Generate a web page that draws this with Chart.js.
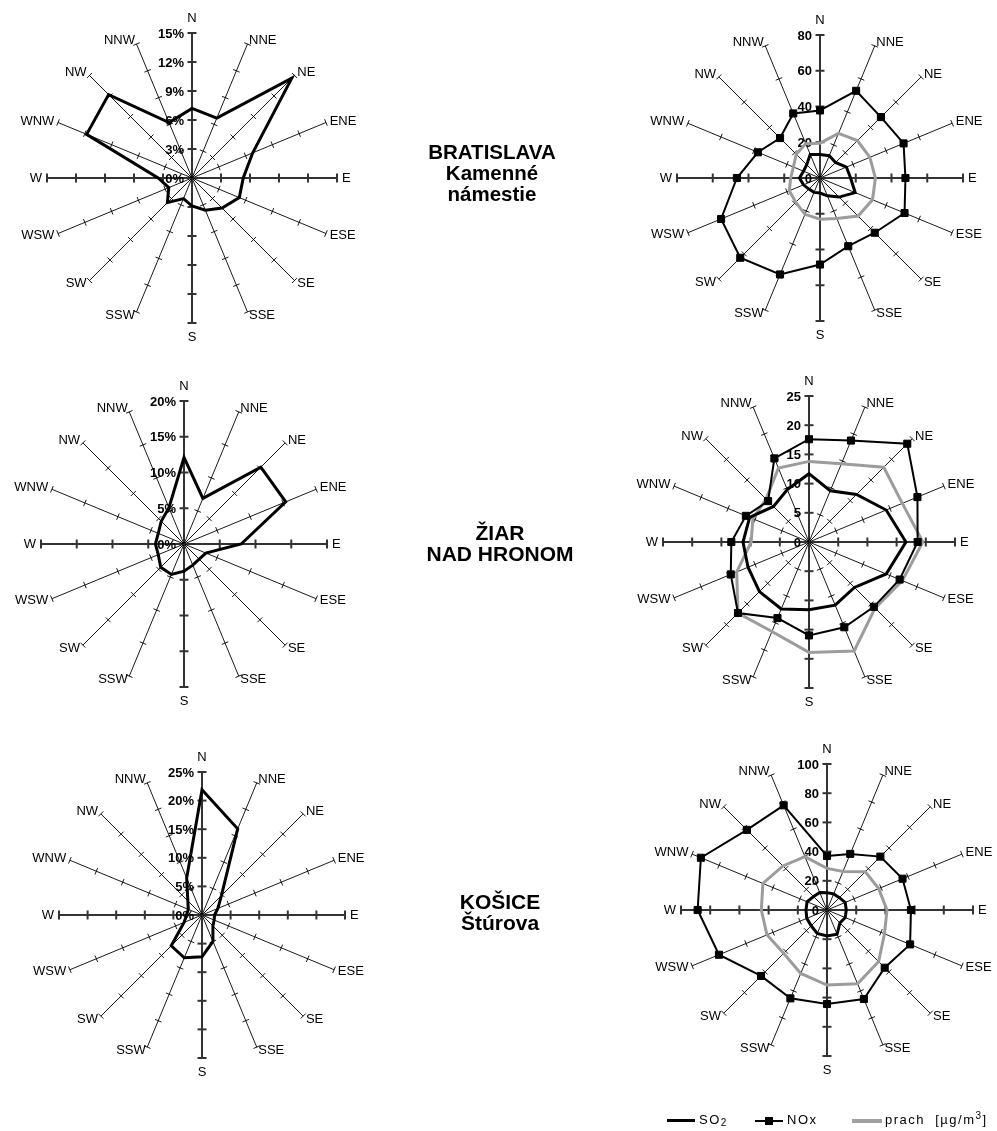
<!DOCTYPE html>
<html>
<head>
<meta charset="utf-8">
<script src="https://cdn.jsdelivr.net/npm/chart.js@4.4.1/dist/chart.umd.min.js"></script>
<style>
  body { margin: 0; background: #fff; width: 997px; height: 1131px; position: relative; overflow: hidden;
         font-family: "Liberation Sans", Arial, sans-serif; }
  canvas { position: absolute; }
  .site { position: absolute; width: 240px; text-align: center; font-weight: bold; font-size: 21px; line-height: 21px; color: #000; }
  .leg { position: absolute; font-size: 13px; line-height: 16px; letter-spacing: 1.5px; color: #000; }
  .leg sub { font-size: 10px; vertical-align: -2px; }
  .leg sup { font-size: 10px; vertical-align: 5px; line-height: 0; }
  .bar { position: absolute; }
</style>
</head>
<body>
<canvas id="ba1" width="400" height="400" style="left:-8px;top:-22px"></canvas>
<canvas id="ba2" width="400" height="400" style="left:620px;top:-22px"></canvas>
<canvas id="zh1" width="400" height="400" style="left:-16px;top:344px"></canvas>
<canvas id="zh2" width="400" height="400" style="left:609px;top:342px"></canvas>
<canvas id="ke1" width="400" height="400" style="left:2px;top:715px"></canvas>
<canvas id="ke2" width="400" height="400" style="left:627px;top:710px"></canvas>

<div class="site" style="left:372px;top:141px;font-size:20.5px">BRATISLAVA<br>Kamenné<br>námestie</div>
<div class="site" style="left:380px;top:522px">ŽIAR<br>NAD HRONOM</div>
<div class="site" style="left:380px;top:891px">KOŠICE<br>Štúrova</div>

<div class="bar" style="left:667px;top:1119px;width:28px;height:3px;background:#000"></div>
<div class="leg" style="left:699px;top:1112px">SO<sub>2</sub></div>
<div class="bar" style="left:755px;top:1120px;width:28px;height:2px;background:#000"></div>
<div class="bar" style="left:765px;top:1117px;width:8px;height:8px;background:#000"></div>
<div class="leg" style="left:787px;top:1112px">NOx</div>
<div class="bar" style="left:852px;top:1119px;width:30px;height:4px;background:#a0a0a0"></div>
<div class="leg" style="left:885px;top:1112px">prach&nbsp; [µg/m<sup>3</sup>]</div>

<script>
// smery vetra (od severu v smere hodinových ručičiek)
const smery = ["N", "NNE", "NE", "ENE", "E", "ESE", "SE", "SSE",
               "S", "SSW", "SW", "WSW", "W", "WNW", "NW", "NNW"];

// Bratislava - početnosť smerov vetra [%]
const vietorBA = [7.2, 6.7, 14.6, 6.8, 5.3, 5.3, 4.4, 3.6, 2.9, 2.3, 3.6, 2.6, 3.5, 11.8, 12.2, 6.2];
// Bratislava - koncentrácie [µg/m3]
const so2BA = [13.2, 13.5, 12.3, 16, 17.1, 21.3, 15.1, 10.8, 8.4, 8.7, 8.8, 10, 11.5, 10, 10.5, 14.3];
const noxBA = [37.8, 52.8, 48.2, 50.6, 47.8, 51.2, 43.3, 41.3, 48.4, 58.4, 63.1, 59.9, 46.5, 37.6, 31.6, 39.1];
const prachBA = [19.5, 27, 29.6, 30.2, 31, 31.8, 30.1, 24.5, 23.1, 22, 19.2, 18.6, 16.4, 16.1, 18.8, 20.8];

// Žiar nad Hronom
const vietorZH = [12.1, 6.9, 15.2, 15.4, 8.0, 3.3, 3.0, 3.2, 3.8, 4.6, 4.6, 3.9, 4.0, 3.9, 4.5, 5.5];
const so2ZH = [11.7, 9.5, 11.5, 14.3, 16.6, 14.3, 11.0, 11.7, 11.6, 12.4, 12.0, 11.3, 11.3, 11.0, 8.6, 9.7];
const noxZH = [17.6, 18.8, 23.8, 20.1, 18.6, 16.8, 15.7, 15.8, 16.0, 14.1, 17.2, 14.5, 13.3, 11.7, 9.9, 15.5];
const prachZH = [13.8, 14.5, 18.1, 17.3, 19.5, 17.3, 16.0, 20.2, 18.9, 16.6, 17.2, 13.4, 9.9, 10.4, 10.4, 13.7];

// Košice - Štúrova
const vietorKE = [21.9, 16.3, 4.8, 3.0, 2.2, 2.3, 2.7, 5.0, 7.3, 8.1, 7.6, 3.4, 2.7, 2.6, 3.5, 7.0];
const so2KE = [11.9, 11.9, 12, 13.5, 13.2, 13.5, 12.5, 18, 17.8, 17.4, 15.3, 15, 14.4, 14.8, 13, 12.9];
const noxKE = [37.0, 41.6, 51.7, 56, 57.5, 61.6, 55.9, 66, 64.4, 65.5, 63.9, 80.1, 88.6, 93.5, 77.6, 77.6];
const prachKE = [28.5, 28.6, 37.1, 38.3, 41.1, 42.6, 50, 54.7, 51.4, 47, 42, 44.5, 45, 47.5, 42.7, 39.6];

// hodnoty a popisy osí
const ticksBA1 = [0, 3, 6, 9, 12, 15];
const tickLabelsBA1 = ["0%", "3%", "6%", "9%", "12%", "15%"];
const ticksBA2 = [0, 20, 40, 60, 80];
const tickLabelsBA2 = ["0", "20", "40", "60", "80"];
const ticksZH1 = [0, 5, 10, 15, 20];
const tickLabelsZH1 = ["0%", "5%", "10%", "15%", "20%"];
const ticksZH2 = [0, 5, 10, 15, 20, 25];
const tickLabelsZH2 = ["0", "5", "10", "15", "20", "25"];
const ticksKE1 = [0, 5, 10, 15, 20, 25];
const tickLabelsKE1 = ["0%", "5%", "10%", "15%", "20%", "25%"];
const ticksKE2 = [0, 20, 40, 60, 80, 100];
const tickLabelsKE2 = ["0", "20", "40", "60", "80", "100"];

// kreslenie lúčov, značiek a popisov ružice
const ruzicaPlugin = {
  id: "ruzica",
  beforeDatasetsDraw(chart, args, opts) {
    const r = chart.scales.r;
    const ctx = chart.ctx;
    const n = chart.data.labels.length;
    const axisMax = opts.ticks[opts.ticks.length - 1];
    ctx.save();
    ctx.lineCap = "butt";
    for (let i = 0; i < n; i++) {
      const hlavna = i % 4 === 0;
      const c = r.getPointPositionForValue(i, 0);
      const end = r.getPointPositionForValue(i, axisMax);
      ctx.strokeStyle = hlavna ? "#333" : "#000";
      ctx.lineWidth = hlavna ? 2 : 0.9;
      ctx.beginPath();
      ctx.moveTo(c.x, c.y);
      ctx.lineTo(end.x, end.y);
      ctx.stroke();
      // značky na lúči
      const half = hlavna ? 4.5 : 3.5;
      opts.ticks.forEach((v) => {
        if (v === 0) return;
        const p = r.getPointPositionForValue(i, v);
        const px = -Math.sin(p.angle), py = Math.cos(p.angle);
        ctx.beginPath();
        ctx.moveTo(p.x - px * half, p.y - py * half);
        ctx.lineTo(p.x + px * half, p.y + py * half);
        ctx.stroke();
      });
    }
    // popisy smerov
    ctx.fillStyle = "#000";
    ctx.font = "13px 'Liberation Sans', Arial, sans-serif";
    const dist = r.getDistanceFromCenterForValue(axisMax);
    chart.data.labels.forEach((lab, i) => {
      if (i === 0) {
        const p = r.getPointPosition(i, dist + 15);
        ctx.textAlign = "center"; ctx.textBaseline = "middle";
        ctx.fillText(lab, p.x, p.y);
      } else if (i === 8) {
        const p = r.getPointPosition(i, dist + 14);
        ctx.textAlign = "center"; ctx.textBaseline = "middle";
        ctx.fillText(lab, p.x, p.y);
      } else {
        const p = r.getPointPosition(i, dist + (i % 4 === 0 ? 5 : 4));
        ctx.textAlign = Math.cos(p.angle) > 0 ? "left" : "right";
        ctx.textBaseline = "middle";
        ctx.fillText(lab, p.x, p.y);
      }
    });
    // hodnoty na severnej osi
    ctx.font = "bold 13px 'Liberation Sans', Arial, sans-serif";
    ctx.textAlign = "right";
    ctx.textBaseline = "middle";
    opts.ticks.forEach((v, k) => {
      const p = r.getPointPositionForValue(0, v);
      ctx.fillText(opts.tickLabels[k], p.x - 8, p.y + 1);
    });
    ctx.restore();
  }
};

function ciara(data, farba, hrubka, body) {
  return {
    data: data,
    borderColor: farba,
    backgroundColor: farba,
    borderWidth: hrubka,
    fill: false,
    tension: 0,
    pointStyle: "rect",
    pointRadius: body ? 5 : 0,
    pointBackgroundColor: farba,
    pointBorderColor: farba,
    pointBorderWidth: 1,
  };
}

function ruzica(id, datasets, ticks, tickLabels, polomer) {
  const canvas = document.getElementById(id);
  const axisMax = ticks[ticks.length - 1];
  const half = canvas.width / 2;
  new Chart(canvas, {
    type: "radar",
    data: { labels: smery, datasets: datasets },
    options: {
      responsive: false,
      animation: false,
      layout: { padding: 0 },
      scales: {
        r: {
          min: 0,
          max: (axisMax * half) / polomer, // os končí na hodnote axisMax
          grid: { display: false },
          angleLines: { display: false },
          pointLabels: { display: false },
          ticks: { display: false },
        },
      },
      plugins: {
        legend: { display: false },
        tooltip: { enabled: false },
        ruzica: { ticks: ticks, tickLabels: tickLabels },
      },
    },
    plugins: [ruzicaPlugin],
  });
}

ruzica("ba1", [ciara(vietorBA, "#000", 3, false)], ticksBA1, tickLabelsBA1, 145);
ruzica("ba2", [ciara(so2BA, "#000", 3, false), ciara(noxBA, "#000", 2, true), ciara(prachBA, "#9c9c9c", 3, false)],
  ticksBA2, tickLabelsBA2, 143);
ruzica("zh1", [ciara(vietorZH, "#000", 3, false)], ticksZH1, tickLabelsZH1, 143);
ruzica("zh2", [ciara(so2ZH, "#000", 3, false), ciara(noxZH, "#000", 2, true), ciara(prachZH, "#9c9c9c", 3, false)],
  ticksZH2, tickLabelsZH2, 146);
ruzica("ke1", [ciara(vietorKE, "#000", 3, false)], ticksKE1, tickLabelsKE1, 143);
ruzica("ke2", [ciara(so2KE, "#000", 3, false), ciara(noxKE, "#000", 2, true), ciara(prachKE, "#9c9c9c", 3, false)],
  ticksKE2, tickLabelsKE2, 146);
</script>
</body>
</html>
